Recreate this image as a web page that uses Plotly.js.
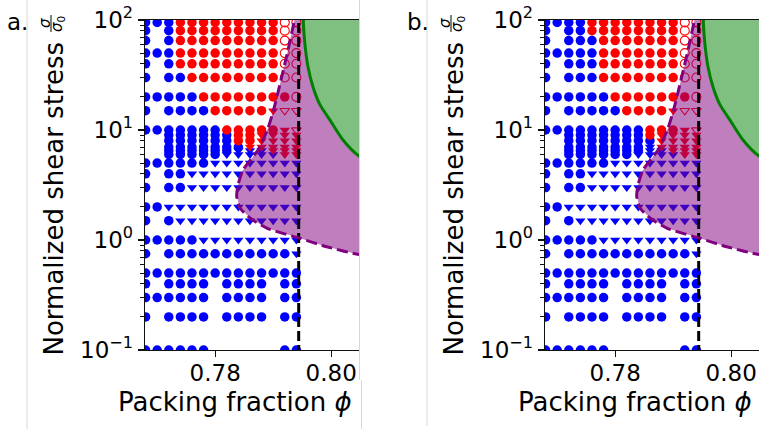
<!DOCTYPE html>
<html>
<head>
<meta charset="utf-8">
<script src="https://cdn.plot.ly/plotly-3.0.1.min.js"></script>
<style>
html,body{margin:0;padding:0;background:#fff;}
#plot{width:759px;height:429px;}
</style>
</head>
<body>
<div id="plot"></div>
<script>
// Packing fractions of the simulated columns
const phi = [0.768, 0.770, 0.772, 0.774, 0.776, 0.778, 0.780, 0.782, 0.784, 0.786, 0.788, 0.790, 0.792, 0.794];
// Normalized shear stress of each row (top to bottom)
const stress = [95, 80, 65, 50, 40, 30, 20, 15, 10, 9, 8, 7, 6.5, 6, 5, 4, 3, 2, 1.5, 1, 0.75, 0.5, 0.4, 0.3, 0.2, 0.1];

// State codes, one character per packing fraction:
// b flowing (circle), v flowing (triangle), r jammed (circle), t jammed (triangle),
// o jammed open circle, u jammed open triangle, . no run
const statesA = [
  "bbbrrrrrrrrroo",
  "b.brrrrrrrrroo",
  "b.brrrrrrrrroo",
  "bbbrrrrrrrrroo",
  "b.brrrrrrrrroo",
  "b.bbrrrrrrrroo",
  "bbbbbrrrrrrrro",
  "b.bbbbrrrrrtuu",
  "bbbbbbbrrrrrtu",
  "..bbbbbbrrtttt",
  "..bbbbbbrrtttt",
  "..bbbbbbbttttt",
  "..bbbbbbvvvttt",
  "..bbbbbvvvvvtt",
  "bbbbbbvvvvvvvv",
  "b.bbvvvvvvvvvv",
  "b.bbvvvvvvvvvv",
  "bbvvvvvvvvvvvv",
  "b.bvvvvvvvvvvv",
  "bbbbbvvvvvvvvv",
  "b.bbbbbbbbbbbv",
  "bbbbbbbbbbbbbb",
  "b.bbbb.bbbb.bb",
  "bbbbbb.bbbb.bb",
  "b.bbbb.bbbb.bb",
  "bbbbbb......bb"
];
const statesB = [
  "bbbbrrrrrrrroo",
  "b.bbrrrrrrrroo",
  "b.bbbrrrrrrroo",
  "bbbbbrrrrrrroo",
  "b.bbbrrrrrrroo",
  "b.bbbrrrrrrroo",
  "bbbbbbrrrrrrro",
  "b.bbbbbrrrrtuu",
  "bbbbbbbbbrrrtu",
  "..bbbbbbbrtttt",
  "..bbbbbbbbtttt",
  "..bbbbbbbvtttt",
  "..bbbbbbbvvttt",
  "..bbbbbbvvvvtt",
  "bbbbbbvvvvvvvv",
  "b.bbvvvvvvvvvv",
  "b.bbvvvvvvvvvv",
  "bbvvvvvvvvvvvv",
  "b.bvvvvvvvvvvv",
  "bbbbbvvvvvvvvv",
  "b.bbbbbbbbbbbv",
  "bbbbbbbbbbbbbb",
  "b.bbbb.bbbb.bb",
  "bbbbbb.bbbb.bb",
  "b.bbbb.bbbb.bb",
  "bbbbbb......bb"
];

// Shear-jamming boundary (dashed purple)
const sjPhi    = [0.7942, 0.79368, 0.79256, 0.79135, 0.79015, 0.78911, 0.78739, 0.7848, 0.78394, 0.78371, 0.78428, 0.78601, 0.78889, 0.79463, 0.79923, 0.8048, 0.812];
const sjStress = [130, 100, 53.4, 28.5, 15.8, 10.4, 6.58, 4.33, 3.16, 2.51, 1.95, 1.585, 1.285, 1.036, 0.869, 0.738, 0.68];
// Isotropic jamming boundary (green)
const ijPhi    = [0.7953, 0.7952, 0.79549, 0.79601, 0.79687, 0.79808, 0.7998, 0.80204, 0.8048, 0.812];
const ijStress = [130, 100, 59.3, 37.4, 24.6, 16.9, 12.3, 8.11, 5.8, 3.9];
// Frictionless jamming point
const phiJ = 0.7944;

const styles = {
  b: {symbol: 'circle', color: 'rgb(0,0,255)', open: false, size: 9.5},
  v: {symbol: 'triangle-down', color: 'rgb(0,0,255)', open: false, size: 9},
  r: {symbol: 'circle', color: 'rgb(255,0,0)', open: false, size: 9.5},
  t: {symbol: 'triangle-down', color: 'rgb(255,0,0)', open: false, size: 9},
  o: {symbol: 'circle-open', color: 'rgb(255,0,0)', open: true, size: 9},
  u: {symbol: 'triangle-down-open', color: 'rgb(255,0,0)', open: true, size: 8.5}
};

const traces = [];
function addPanel(states, xa, ya) {
  Object.keys(styles).forEach(code => {
    const xs = [], ys = [];
    states.forEach((row, i) => {
      for (let j = 0; j < row.length; j++) {
        if (row[j] === code) { xs.push(phi[j]); ys.push(stress[i]); }
      }
    });
    if (!xs.length) return;
    const s = styles[code];
    traces.push({
      type: 'scatter', mode: 'markers', x: xs, y: ys, xaxis: xa, yaxis: ya,
      cliponaxis: true, hoverinfo: 'skip',
      marker: {symbol: s.symbol, size: s.size, color: s.color,
               line: {width: s.open ? 1.1 : 0, color: s.color}}
    });
  });
  // purple band between the shear-jamming and isotropic jamming curves
  const bandX = sjPhi.concat(ijPhi.slice().reverse());
  const bandY = sjStress.concat(ijStress.slice().reverse());
  traces.push({type: 'scatter', mode: 'none', x: bandX, y: bandY, xaxis: xa, yaxis: ya,
    fill: 'toself', fillcolor: 'rgba(128,0,128,0.5)', hoverinfo: 'skip'});
  // green region beyond isotropic jamming
  const gx = ijPhi.concat([0.83, 0.83]);
  const gy = ijStress.concat([3.9, 130]);
  traces.push({type: 'scatter', mode: 'none', x: gx, y: gy, xaxis: xa, yaxis: ya,
    fill: 'toself', fillcolor: 'rgba(0,128,0,0.5)', hoverinfo: 'skip'});
  traces.push({type: 'scatter', mode: 'lines', x: [phiJ, phiJ], y: [0.05, 200], xaxis: xa, yaxis: ya,
    line: {color: '#000', width: 3, dash: '10px,4px'}, hoverinfo: 'skip'});
  traces.push({type: 'scatter', mode: 'lines', x: sjPhi, y: sjStress, xaxis: xa, yaxis: ya,
    line: {color: 'rgb(128,0,128)', width: 3, dash: '11px,5px', shape: 'spline', smoothing: 0.6}, hoverinfo: 'skip'});
  traces.push({type: 'scatter', mode: 'lines', x: ijPhi, y: ijStress, xaxis: xa, yaxis: ya,
    line: {color: 'rgb(0,128,0)', width: 3, shape: 'spline', smoothing: 0.6}, hoverinfo: 'skip'});
}
addPanel(statesA, 'x', 'y');
addPanel(statesB, 'x2', 'y2');

const FONT = 'DejaVu Sans, sans-serif';
const W = 759, H = 429;
const px = v => v / W, py = v => 1 - v / H;

const minorVals = [];
[0.1, 1, 10].forEach(d => { for (let k = 2; k <= 9; k++) minorVals.push(d * k); });

function xAxis(dom, anchor) {
  return {
    domain: dom, anchor: anchor, range: [0.7679, 0.8048],
    showline: true, linecolor: '#111', linewidth: 1.3, mirror: true,
    ticks: 'outside', ticklen: 6, tickwidth: 1.2, tickcolor: '#111',
    ticklabelstandoff: -4,
    tickvals: [0.78, 0.80], ticktext: ['0.78', '0.80'],
    tickfont: {family: FONT, size: 23, color: '#000'},
    showgrid: false, zeroline: false
  };
}
function yAxis(anchor) {
  return {
    domain: [1 - 350 / H, 1 - 20 / H], anchor: anchor, type: 'log', range: [-1, 2],
    showline: true, linecolor: '#111', linewidth: 1.3, mirror: false,
    ticks: 'outside', ticklen: 6, tickwidth: 1.2, tickcolor: '#111',
    tickvals: [0.1, 1, 10, 100],
    ticktext: ['10<sup>\u22121</sup>', '10<sup>0</sup>', '10<sup>1</sup>', '10<sup>2</sup>'],
    tickfont: {family: FONT, size: 23, color: '#000'},
    minor: {ticks: 'outside', ticklen: 3.5, tickwidth: 1, tickcolor: '#111', tickvals: minorVals},
    showgrid: false, zeroline: false
  };
}

const annotations = [];
const shapes = [];
[[0, 'a.'], [400, 'b.']].forEach(([dx, lab]) => {
  annotations.push({xref: 'paper', yref: 'paper', x: px(17.5 + dx), y: py(22), text: lab, showarrow: false,
    xanchor: 'center', yanchor: 'middle', font: {family: FONT, size: 23, color: '#000'}});
  annotations.push({xref: 'paper', yref: 'paper', x: px(54 + dx), y: py(198.5), text: 'Normalized shear stress',
    textangle: -90, showarrow: false, xanchor: 'center', yanchor: 'middle',
    font: {family: FONT, size: 26, color: '#000'}});
  annotations.push({xref: 'paper', yref: 'paper', x: px(45 + dx), y: py(23), text: '<i>\u03c3</i>',
    textangle: -90, showarrow: false, xanchor: 'center', yanchor: 'middle',
    font: {family: FONT, size: 15, color: '#000'}});
  annotations.push({xref: 'paper', yref: 'paper', x: px(58 + dx), y: py(24), text: '<i>\u03c3</i><sub>0</sub>',
    textangle: -90, showarrow: false, xanchor: 'center', yanchor: 'middle',
    font: {family: FONT, size: 15, color: '#000'}});
  shapes.push({type: 'line', xref: 'paper', yref: 'paper', x0: px(51 + dx), x1: px(51 + dx), y0: py(15), y1: py(32),
    line: {color: '#000', width: 1}});
  annotations.push({xref: 'paper', yref: 'paper', x: px(235 + dx), y: py(402), text: 'Packing fraction <i>\u03d5</i>',
    showarrow: false, xanchor: 'center', yanchor: 'middle', font: {family: FONT, size: 26, color: '#000'}});
});
// light frame edges of the two figure panels
[[27, 0, 429], [359.5, 0, 380], [361.5, 380, 429], [427, 0, 426]].forEach(([x, y0, y1]) => {
  shapes.push({type: 'line', xref: 'paper', yref: 'paper', x0: px(x), x1: px(x), y0: py(y0), y1: py(y1),
    line: {color: '#d8d8d8', width: 1}, layer: 'above'});
});

const layout = {
  width: W, height: H, margin: {l: 0, r: 0, t: 0, b: 0},
  paper_bgcolor: '#fff', plot_bgcolor: '#fff', showlegend: false,
  xaxis: xAxis([145 / W, 359 / W], 'y'),
  yaxis: yAxis('x'),
  xaxis2: xAxis([545 / W, 1], 'y2'),
  yaxis2: yAxis('x2'),
  annotations: annotations, shapes: shapes
};

Plotly.newPlot('plot', traces, layout, {staticPlot: true, displayModeBar: false});
</script>
</body>
</html>
